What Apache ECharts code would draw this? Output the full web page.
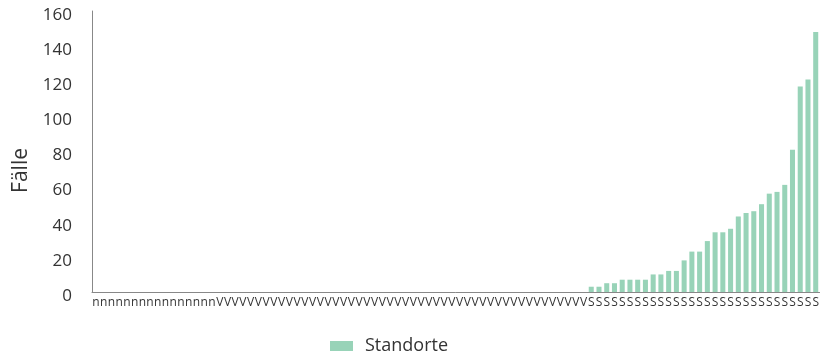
<!DOCTYPE html>
<html>
<head>
<meta charset="utf-8">
<script src="https://cdn.jsdelivr.net/npm/echarts@6/dist/echarts.min.js"></script>
<style>
  html, body { margin: 0; padding: 0; background: #fff; }
  #chart { width: 822px; height: 356px; }
</style>
</head>
<body>
<div id="chart"></div>
<script>
// Category groups along the x-axis (one letter per site)
const groupN = 16;   // sites labelled "n"
const groupV = 48;   // sites labelled "V"
const siteValuesS = [
  3, 3, 5, 5, 7, 7, 7, 7, 10, 10,
  12, 12, 18, 23, 23, 29, 34, 34, 36, 43,
  45, 46, 50, 56, 57, 61, 81, 117, 121, 148
];

const categories = [];
const values = [];
for (let i = 0; i < groupN; i++) { categories.push('n'); values.push(0); }
for (let i = 0; i < groupV; i++) { categories.push('V'); values.push(0); }
siteValuesS.forEach(v => { categories.push('S'); values.push(v); });

const yTicks = { min: 0, max: 160, interval: 20 };
const seriesName = 'Standorte';
const axisTitle = 'Fälle';

const chart = echarts.init(document.getElementById('chart'));
chart.setOption({
  animation: false,
  textStyle: { fontFamily: 'Open Sans' },
  grid: { left: 92, right: 1, top: 11, bottom: 64, containLabel: false },
  legend: {
    data: [seriesName],
    left: 325,
    top: 332,
    icon: 'rect',
    itemWidth: 23,
    itemHeight: 10,
    textStyle: { fontSize: 18, color: '#333', padding: [0, 0, 0, 7] }
  },
  graphic: [{
    type: 'text',
    left: 11,
    top: 148,
    rotation: Math.PI / 2,
    style: { text: axisTitle, fontSize: 21, fill: '#333', fontFamily: 'Open Sans' }
  }],
  xAxis: {
    type: 'category',
    data: categories,
    axisLine: { lineStyle: { color: '#888', width: 1 } },
    axisTick: { show: false },
    axisLabel: { interval: 0, fontSize: 12, color: '#333', margin: 5 }
  },
  yAxis: {
    type: 'value',
    min: yTicks.min,
    max: yTicks.max,
    interval: yTicks.interval,
    axisLine: { show: true, lineStyle: { color: '#888', width: 1 } },
    axisTick: { show: false },
    splitLine: { show: false },
    axisLabel: { fontSize: 17, color: '#333', margin: 20, verticalAlign: 'top', lineHeight: 8 }
  },
  series: [{
    name: seriesName,
    type: 'bar',
    data: values,
    barCategoryGap: '35%',
    itemStyle: { color: '#98D3B8' }
  }]
});
</script>
</body>
</html>
